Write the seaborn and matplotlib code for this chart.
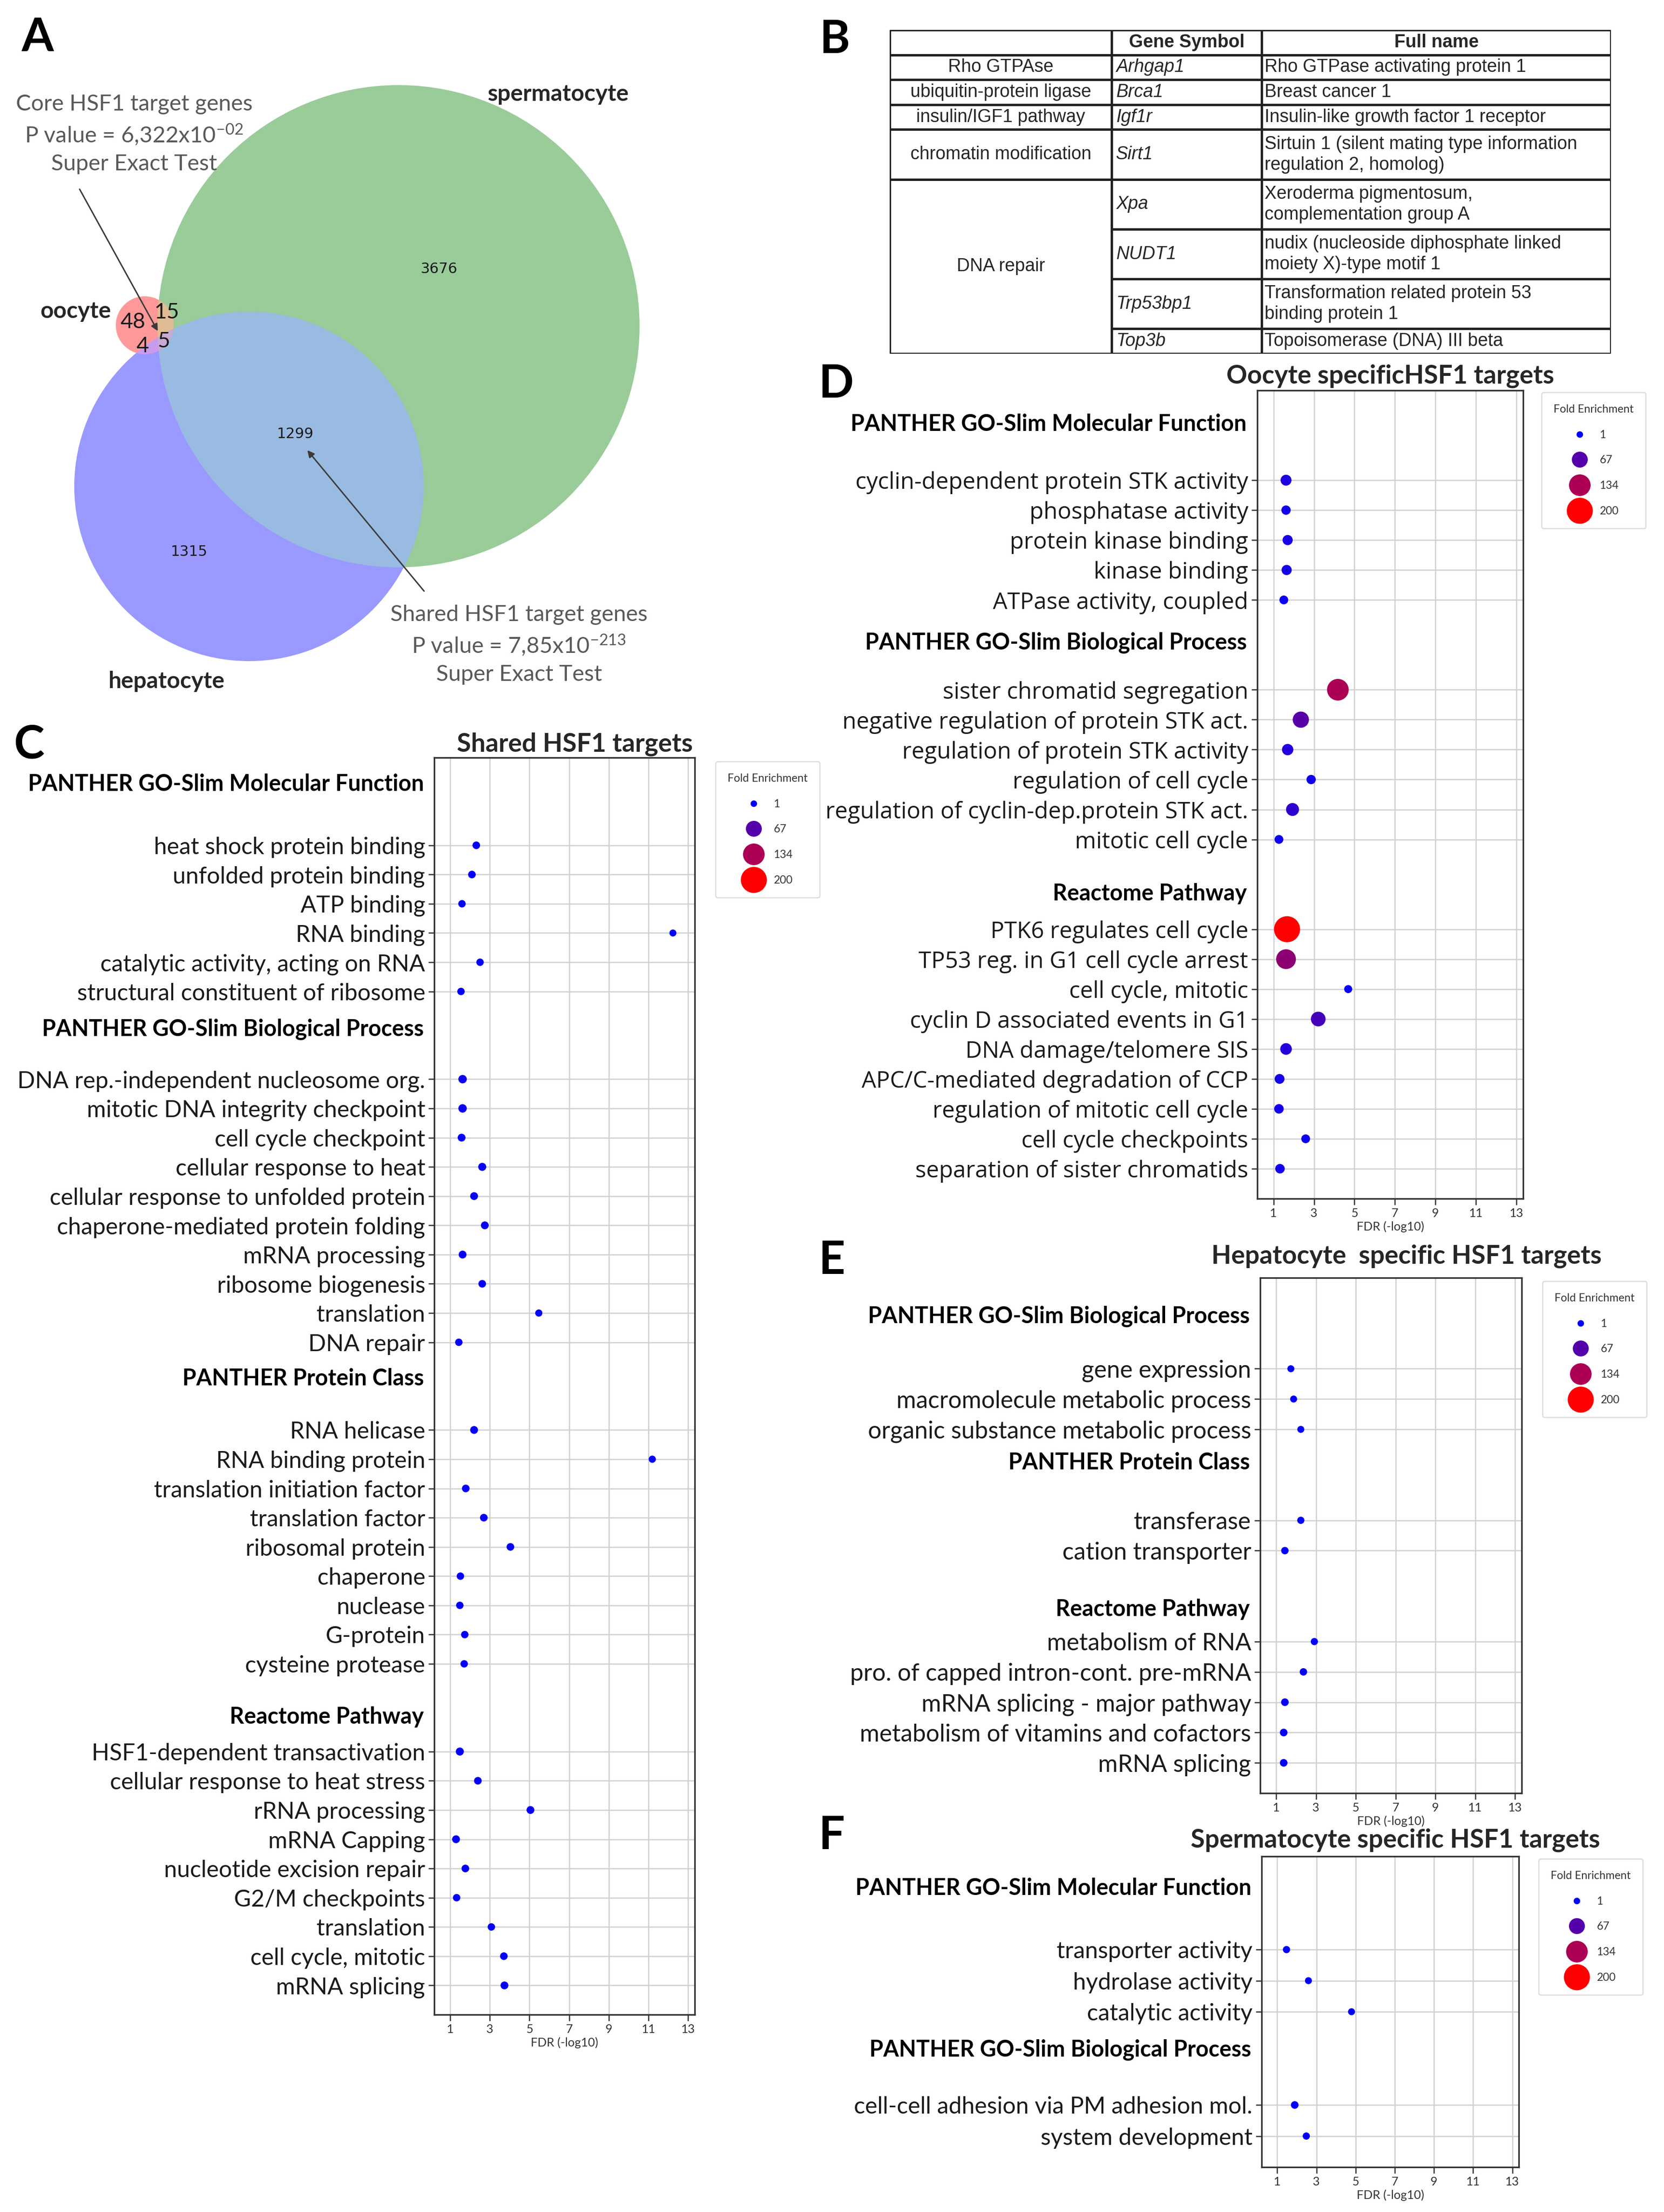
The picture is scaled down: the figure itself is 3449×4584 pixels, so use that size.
import numpy as np
import pandas as pd
import matplotlib
matplotlib.use("Agg")
import matplotlib.pyplot as plt
import seaborn as sns
from matplotlib.colors import LinearSegmentedColormap
from matplotlib.patches import Circle, Polygon
from matplotlib.lines import Line2D
from matplotlib.transforms import blended_transform_factory

# ---------------- data ----------------
# A - Venn (membership code: oocyte, spermatocyte, hepatocyte)
venn_sets = ["oocyte", "spermatocyte", "hepatocyte"]
venn_regions = ["100", "010", "001", "110", "101", "011", "111"]
venn_counts = [48, 3676, 1315, 15, 4, 1299, 5]

# B - table
table_category = ["Rho GTPAse", "ubiquitin-protein ligase", "insulin/IGF1 pathway",
                  "chromatin modification", "DNA repair", "DNA repair", "DNA repair", "DNA repair"]
table_symbol = ["Arhgap1", "Brca1", "Igf1r", "Sirt1", "Xpa", "NUDT1", "Trp53bp1", "Top3b"]
table_fullname = ["Rho GTPase activating protein 1",
                  "Breast cancer 1",
                  "Insulin-like growth factor 1 receptor",
                  "Sirtuin 1 (silent mating type information\nregulation 2, homolog)",
                  "Xeroderma pigmentosum,\ncomplementation group A",
                  "nudix (nucleoside diphosphate linked\nmoiety X)-type motif 1",
                  "Transformation related protein 53\nbinding protein 1",
                  "Topoisomerase (DNA) III beta"]

# C - shared targets
c_sections = ["PANTHER GO-Slim Molecular Function", "PANTHER GO-Slim Biological Process",
              "PANTHER Protein Class", "Reactome Pathway"]
c_terms = ["heat shock protein binding", "unfolded protein binding", "ATP binding", "RNA binding",
           "catalytic activity, acting on RNA", "structural constituent of ribosome",
           "DNA rep.-independent nucleosome org.", "mitotic DNA integrity checkpoint",
           "cell cycle checkpoint", "cellular response to heat", "cellular response to unfolded protein",
           "chaperone-mediated protein folding", "mRNA processing", "ribosome biogenesis",
           "translation", "DNA repair",
           "RNA helicase", "RNA binding protein", "translation initiation factor", "translation factor",
           "ribosomal protein", "chaperone", "nuclease", "G-protein", "cysteine protease",
           "HSF1-dependent transactivation", "cellular response to heat stress", "rRNA processing",
           "mRNA Capping", "nucleotide excision repair", "G2/M checkpoints", "translation",
           "cell cycle, mitotic", "mRNA splicing"]
c_group = [0] * 6 + [1] * 10 + [2] * 9 + [3] * 9
c_fdr = [2.32, 2.10, 1.60, 12.23, 2.51, 1.55,
         1.63, 1.63, 1.58, 2.62, 2.21, 2.75, 1.63, 2.62, 5.47, 1.44,
         2.21, 11.19, 1.79, 2.70, 4.04, 1.52, 1.49, 1.74, 1.71,
         1.49, 2.40, 5.05, 1.30, 1.77, 1.33, 3.08, 3.71, 3.74]
c_fold = [6, 6, 5, 3, 5, 5,
          10, 10, 7, 8, 7, 7, 7, 6, 4, 5,
          7, 4, 6, 6, 6, 5, 5, 5, 5,
          8, 6, 7, 7, 6, 5, 5, 6, 7]

# D - oocyte specific
d_sections = ["PANTHER GO-Slim Molecular Function", "PANTHER GO-Slim Biological Process",
              "Reactome Pathway"]
d_terms = ["cyclin-dependent protein STK activity", "phosphatase activity", "protein kinase binding",
           "kinase binding", "ATPase activity, coupled",
           "sister chromatid segregation", "negative regulation of protein STK act.",
           "regulation of protein STK activity", "regulation of cell cycle",
           "regulation of cyclin-dep.protein STK act.", "mitotic cell cycle",
           "PTK6 regulates cell cycle", "TP53 reg. in G1 cell cycle arrest", "cell cycle, mitotic",
           "cyclin D associated events in G1", "DNA damage/telomere SIS",
           "APC/C-mediated degradation of CCP", "regulation of mitotic cell cycle",
           "cell cycle checkpoints", "separation of sister chromatids"]
d_group = [0] * 5 + [1] * 6 + [2] * 9
d_fdr = [1.62, 1.62, 1.70, 1.65, 1.51,
         4.18, 2.35, 1.70, 2.86, 1.94, 1.27,
         1.67, 1.62, 4.69, 3.21, 1.62, 1.30, 1.27, 2.59, 1.32]
d_fold = [25, 15, 20, 20, 12,
          134, 70, 28, 15, 40, 12,
          200, 110, 8, 55, 30, 18, 16, 12, 16]

# E - hepatocyte specific
e_sections = ["PANTHER GO-Slim Biological Process", "PANTHER Protein Class", "Reactome Pathway"]
e_terms = ["gene expression", "macromolecule metabolic process", "organic substance metabolic process",
           "transferase", "cation transporter",
           "metabolism of RNA", "pro. of capped intron-cont. pre-mRNA", "mRNA splicing - major pathway",
           "metabolism of vitamins and cofactors", "mRNA splicing"]
e_group = [0, 0, 0, 1, 1, 2, 2, 2, 2, 2]
e_fdr = [1.74, 1.88, 2.24, 2.24, 1.44, 2.92, 2.37, 1.44, 1.38, 1.38]
e_fold = [3, 3, 3, 4, 5, 4, 5, 6, 6, 6]

# F - spermatocyte specific
f_sections = ["PANTHER GO-Slim Molecular Function", "PANTHER GO-Slim Biological Process"]
f_terms = ["transporter activity", "hydrolase activity", "catalytic activity",
           "cell-cell adhesion via PM adhesion mol.", "system development"]
f_group = [0, 0, 0, 1, 1]
f_fdr = [1.47, 2.59, 4.79, 1.89, 2.48]
f_fold = [4, 3, 3, 6, 4]

legend_folds = [1, 67, 134, 200]
fdr_ticks = [1, 3, 5, 7, 9, 11, 13]

# ---------------- style ----------------
W, H, DPI = 3449, 4584, 300
sns.set_theme(style="whitegrid")
plt.rcParams["font.family"] = ["Lato", "DejaVu Sans"]
plt.rcParams["mathtext.fontset"] = "custom"
plt.rcParams["mathtext.rm"] = "Lato"
plt.rcParams["mathtext.it"] = "Lato:italic"
plt.rcParams["mathtext.bf"] = "Lato:bold"

fold_cmap = LinearSegmentedColormap.from_list("fold", ["#0000ff", "#ff0000"])
fold_norm = (1, 200)
dot_sizes = (10.5, 168)

fig = plt.figure(figsize=(W / DPI, H / DPI), dpi=DPI)


def px_box(x0, y0, x1, y1):
    return [x0 / W, 1 - y1 / H, (x1 - x0) / W, (y1 - y0) / H]


def panel_letter(x, y, s):
    fig.text(x / W, 1 - y / H, s, fontsize=23, fontweight="bold", ha="left", va="center",
             color="black")


# ---------------- A: Venn ----------------
axA = fig.add_axes(px_box(0, 0, 1650, 1450))
axA.set_xlim(0, 1650)
axA.set_ylim(1450, 0)
axA.axis("off")

totals = [sum(c for r, c in zip(venn_regions, venn_counts) if r[i] == "1") for i in range(3)]
radii = [7.07 * np.sqrt(t) for t in totals]
centers = [(300, 674), (826, 676), (516, 1008)]
set_fill = ["#ff9999", "#99cc99", "#9999ff"]
overlap_fill = {(1, 2): "#99bbe1", (0, 1): "#e0bc94", (0, 2): "#c99bee", (0, 1, 2): "#c8aad2"}


def inter_poly(idx):
    pts = []
    for i in idx:
        t = np.linspace(0, 2 * np.pi, 900)
        p = np.c_[centers[i][0] + radii[i] * np.cos(t), centers[i][1] + radii[i] * np.sin(t)]
        keep = np.ones(len(p), bool)
        for j in idx:
            if j != i:
                keep &= np.hypot(p[:, 0] - centers[j][0], p[:, 1] - centers[j][1]) <= radii[j] + 0.01
        pts.append(p[keep])
    pts = np.vstack(pts)
    c = pts.mean(axis=0)
    order = np.argsort(np.arctan2(pts[:, 1] - c[1], pts[:, 0] - c[0]))
    return pts[order]


for i in [1, 2, 0]:
    axA.add_patch(Circle(centers[i], radii[i], facecolor=set_fill[i], edgecolor="none"))
for idx, col in overlap_fill.items():
    axA.add_patch(Polygon(inter_poly(idx), closed=True, facecolor=col, edgecolor="none"))

venn_label_xy = [(276, 668), (910, 558), (392, 1143), (345, 648), (296, 718), (612, 900), (340, 707)]
for code, n, (x, y) in zip(venn_regions, venn_counts, venn_label_xy):
    if n > 1000:
        axA.text(x, y, str(n), fontsize=7.2, family="DejaVu Sans", ha="center", va="center",
                 color="#1a1a1a")
    else:
        axA.text(x, y, str(n), fontsize=10.8, ha="center", va="center", color="#1a1a1a")

axA.text(1157, 195, venn_sets[1], fontsize=11.5, fontweight="bold", ha="center", va="center")
axA.text(157, 645, venn_sets[0], fontsize=11.5, fontweight="bold", ha="center", va="center")
axA.text(345, 1412, venn_sets[2], fontsize=11.5, fontweight="bold", ha="center", va="center")

axA.text(278, 278, "Core HSF1 target genes\nP value = 6,322x10$^{-02}$\nSuper Exact Test",
         fontsize=11.2, color="#595959", ha="center", va="center", linespacing=1.4)
axA.annotate("", xy=(327, 686), xytext=(165, 392),
             arrowprops=dict(arrowstyle="-|>", color="#3a3a3a", lw=0.7, mutation_scale=7,
                             shrinkA=0, shrinkB=0))
axA.text(1076, 1336, "Shared HSF1 target genes\nP value = 7,85x10$^{-213}$\nSuper Exact Test",
         fontsize=11.2, color="#595959", ha="center", va="center", linespacing=1.4)
axA.annotate("", xy=(637, 933), xytext=(879, 1225),
             arrowprops=dict(arrowstyle="-|>", color="#3a3a3a", lw=0.7, mutation_scale=7,
                             shrinkA=0, shrinkB=0))
panel_letter(45, 78, "A")

# ---------------- B: table ----------------
axB = fig.add_axes(px_box(1844, 62, 3339, 733))
row_h = [1] + [1 + s.count("\n") for s in table_fullname]
edges = np.concatenate([[0], np.cumsum(row_h)])
axB.set_xlim(0, 1)
axB.set_ylim(edges[-1], 0)
axB.axis("off")
col_x = [0, 0.308, 0.516, 1]
tfont = "Liberation Sans"
lw_t = 1.2
lc = "#222222"

for x in col_x:
    axB.plot([x, x], [0, edges[-1]], color=lc, lw=lw_t, solid_capstyle="projecting")
axB.plot([0, 1], [0, 0], color=lc, lw=lw_t)
axB.plot([0, 1], [edges[-1], edges[-1]], color=lc, lw=lw_t)
axB.plot([0, 1], [1, 1], color=lc, lw=lw_t)
for k in range(1, len(table_symbol)):
    y = edges[k + 1]
    same = table_category[k] == table_category[k - 1]
    axB.plot([col_x[1] if same else 0, 1], [y, y], color=lc, lw=lw_t)

axB.text((col_x[1] + col_x[2]) / 2, 0.5, "Gene Symbol", family=tfont, fontweight="bold",
         fontsize=9, ha="center", va="center")
axB.text((col_x[2] + col_x[3]) / 2, 0.5, "Full name", family=tfont, fontweight="bold",
         fontsize=9, ha="center", va="center")
k = 0
while k < len(table_category):
    j = k
    while j + 1 < len(table_category) and table_category[j + 1] == table_category[k]:
        j += 1
    axB.text(col_x[1] / 2, (edges[k + 1] + edges[j + 2]) / 2, table_category[k], family=tfont,
             fontsize=9, ha="center", va="center")
    k = j + 1
for k, (sym, full) in enumerate(zip(table_symbol, table_fullname)):
    yc = (edges[k + 1] + edges[k + 2]) / 2
    axB.text(col_x[1] + 0.006, yc, sym, family=tfont, style="italic", fontsize=9,
             ha="left", va="center")
    axB.text(col_x[2] + 0.004, yc, full, family=tfont, fontsize=9, ha="left", va="center",
             linespacing=1.25)
panel_letter(1698, 82, "B")


# ---------------- C-F: GO dot plots ----------------
def fold_size(v):
    return dot_sizes[0] + (v - fold_norm[0]) / (fold_norm[1] - fold_norm[0]) * (dot_sizes[1] - dot_sizes[0])


def fold_legend(ax, x, y):
    handles = [Line2D([], [], marker="o", linestyle="", markersize=np.sqrt(fold_size(v)),
                      markerfacecolor=fold_cmap((v - 1) / 199), markeredgewidth=0)
               for v in legend_folds]
    leg = ax.legend(handles, [str(v) for v in legend_folds], title="Fold Enrichment",
                    loc="upper left", bbox_to_anchor=(x / W, 1 - y / H), bbox_transform=fig.transFigure,
                    borderaxespad=0, fontsize=5.5, title_fontsize=5.5, labelspacing=1.38,
                    borderpad=1.1, handletextpad=0.8, handlelength=2.0, frameon=True, fancybox=True,
                    edgecolor="#dddddd", framealpha=1)
    leg.get_frame().set_linewidth(0.6)
    leg.get_title().set_color("#333333")
    for t in leg.get_texts():
        t.set_color("#333333")


def go_panel(box, terms, groups, fdr, fold, sections, head_off, title, title_x, title_pad,
             lab_family, lab_size, legend_xy):
    ax = fig.add_axes(px_box(*box))
    pos = []
    for i, g in enumerate(groups):
        if i == 0:
            pos.append(0)
        elif g != groups[i - 1]:
            pos.append(pos[-1] + 3)
        else:
            pos.append(pos[-1] + 1)
    df = pd.DataFrame({"term": terms, "pos": pos, "fdr": fdr, "fold": fold})
    sns.scatterplot(data=df, x="fdr", y="pos", hue="fold", size="fold", palette=fold_cmap,
                    hue_norm=fold_norm, size_norm=fold_norm, sizes=dot_sizes, linewidth=0,
                    legend=False, ax=ax, zorder=3)
    ax.set_xlim(0.2, 13.33)
    ax.set_ylim(pos[-1] + 1, -3)
    ax.set_xticks(fdr_ticks)
    ax.set_yticks(pos)
    ax.set_yticklabels(terms, fontsize=lab_size, family=lab_family, color="#1a1a1a")
    ax.set_ylabel("")
    ax.set_xlabel("FDR (-log10)", fontsize=6, labelpad=1, color="#333333")
    ax.tick_params(axis="x", bottom=True, labelsize=6, length=3, width=0.6, pad=1.5,
                   colors="#333333")
    ax.tick_params(axis="y", left=True, length=3, width=0.6, pad=1.5, color="#333333")
    ax.grid(True, color="#d0d0d0", lw=0.6)
    for sp in ax.spines.values():
        sp.set_visible(True)
        sp.set_color("#333333")
        sp.set_linewidth(0.8)
    tr = blended_transform_factory(ax.transAxes, ax.transData)
    starts = [pos[groups.index(g)] for g in sorted(set(groups))]
    for st, name, off in zip(starts, sections, head_off):
        ax.text(-0.04, st + off, name, transform=tr, ha="right", va="center", fontsize=11.2,
                fontweight="bold", color="black")
    ax.set_title(title, x=title_x, fontsize=12.8, fontweight="bold", pad=title_pad)
    fold_legend(ax, *legend_xy)
    return ax


go_panel((900, 1570, 1440, 4175), c_terms, c_group, c_fdr, c_fold, c_sections,
         [-2.09, -1.71, -1.76, -1.18], "Shared HSF1 targets", 0.54, 3,
         ["Lato", "DejaVu Sans"], 11.6, (1483, 1578))
panel_letter(28, 1544, "C")

go_panel((2606, 809, 3157, 2484), d_terms, d_group, d_fdr, d_fold, d_sections,
         [-1.87, -1.58, -1.19], "Oocyte specificHSF1 targets", 0.5, 3.6,
         ["Open Sans", "DejaVu Sans"], 11.4, (3195, 813))
panel_letter(1696, 797, "D")

go_panel((2612, 2648, 3154, 3716), e_terms, e_group, e_fdr, e_fold, e_sections,
         [-1.73, -1.9, -1.06], "Hepatocyte  specific HSF1 targets", 0.56, 7,
         ["Lato", "DejaVu Sans"], 11.9, (3197, 2655))
panel_letter(1696, 2613, "E")

go_panel((2615, 3847, 3148, 4491), f_terms, f_group, f_fdr, f_fold, f_sections,
         [-1.98, -1.78], "Spermatocyte specific HSF1 targets", 0.52, 4.5,
         ["Lato", "DejaVu Sans"], 11.6, (3189, 3852))
panel_letter(1696, 3805, "F")

fig.savefig("out.png", dpi=DPI, facecolor="white")
